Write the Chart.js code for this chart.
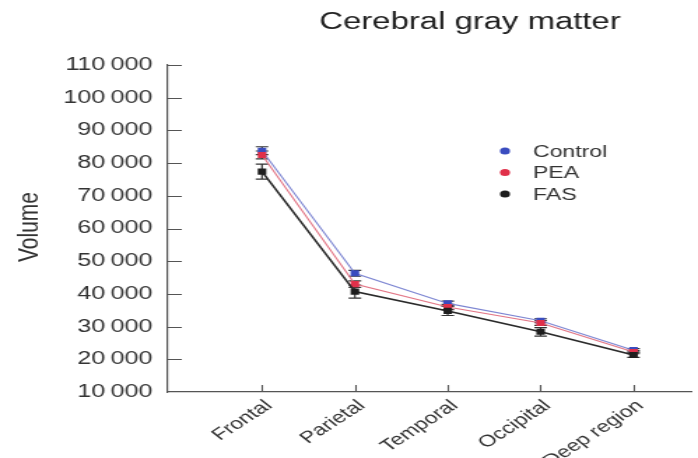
<!DOCTYPE html>
<html>
<head>
<meta charset="utf-8">
<script src="https://cdn.jsdelivr.net/npm/chart.js@4"></script>
<style>
  html, body { margin: 0; padding: 0; background: #fff; overflow: hidden; }
  #wrap { position: absolute; left: 0; top: 0; width: 499px; height: 458px;
          transform: scaleX(1.3988); transform-origin: 0 0; }
</style>
</head>
<body>
<div id="wrap"><canvas id="c"></canvas></div>
<script>
// ---- data ----
const categories = ["Frontal", "Parietal", "Temporal", "Occipital", "Deep region"];
const controlValues = [83800, 46300, 37100, 31800, 22800];
const peaValues     = [82500, 43000, 36000, 31100, 22200];
const fasValues     = [77400, 40700, 34800, 28400, 21300];
const controlErrors = [1200, 900, 700, 600, 500];
const peaErrors     = [1200, 1000, 800, 700, 500];
const fasErrors     = [2300, 2000, 1400, 1300, 700];
const yTicks = [10000, 20000, 30000, 40000, 50000, 60000, 70000, 80000, 90000, 100000, 110000];
const titleText = "Cerebral gray matter";
const yTitle = "Volume";
const seriesNames = ["Control", "PEA", "FAS"];

const FONT = '"Liberation Sans", Arial, sans-serif';
const markerColors = ["#3a4cbf", "#e0304a", "#1e1e1e"];
const lineColors = ["#7d86d2", "#e27484", "#2a2a2a"];

function pts(arr) { return arr.map((v, i) => ({ x: i, y: v })); }
const values = [controlValues, peaValues, fasValues];
const errors = [controlErrors, peaErrors, fasErrors];

const datasets = seriesNames.map((name, k) => ({
  label: name,
  data: pts(values[k]),
  errors: errors[k],
  borderColor: lineColors[k],
  borderWidth: k === 2 ? 1.6 : 1.1,
  backgroundColor: markerColors[k],
  pointBackgroundColor: markerColors[k],
  pointBorderColor: markerColors[k],
  pointStyle: 'rect',
  pointRadius: 4.3,
  pointBorderWidth: 0,
  tension: 0,
  order: 3 - k
}));

function fmt(v) { return String(v).replace(/\B(?=(\d{3})+(?!\d))/g, "\u2009"); }

const decor = {
  id: 'decor',
  beforeDatasetsDraw(chart) {
    const ctx = chart.ctx, y = chart.scales.y;
    ctx.save();
    ctx.strokeStyle = '#333';
    ctx.lineWidth = 1.2;
    chart.data.datasets.forEach((ds, k) => {
      const meta = chart.getDatasetMeta(k);
      meta.data.forEach((p, i) => {
        const v = ds.data[i].y, e = ds.errors[i];
        const y1 = y.getPixelForValue(v + e), y2 = y.getPixelForValue(v - e);
        ctx.beginPath();
        ctx.moveTo(p.x, y1); ctx.lineTo(p.x, y2);
        ctx.moveTo(p.x - 4.5, y1); ctx.lineTo(p.x + 4.5, y1);
        ctx.moveTo(p.x - 4.5, y2); ctx.lineTo(p.x + 4.5, y2);
        ctx.stroke();
      });
    });
    ctx.restore();
  },
  afterDraw(chart) {
    const ctx = chart.ctx, a = chart.chartArea;
    const xs = chart.scales.x, ys = chart.scales.y;
    ctx.save();
    // inward tick marks
    ctx.strokeStyle = '#555';
    ctx.lineWidth = 1.1;
    ctx.beginPath();
    yTicks.forEach(t => {
      if (t === 10000) return;
      const py = Math.round(ys.getPixelForValue(t)) + 0.5;
      ctx.moveTo(a.left, py); ctx.lineTo(a.left + 10, py);
    });
    categories.forEach((c, i) => {
      const px = Math.round(xs.getPixelForValue(i)) + 0.5;
      ctx.moveTo(px, a.bottom); ctx.lineTo(px, a.bottom - 7);
    });
    ctx.stroke();
    // title
    ctx.fillStyle = '#222';
    ctx.font = '23.5px ' + FONT;
    ctx.textAlign = 'center';
    ctx.textBaseline = 'middle';
    ctx.fillText(titleText, 336, 23);
    // y title
    ctx.save();
    ctx.translate(21, 227);
    ctx.rotate(-Math.PI / 2);
    ctx.font = '21px ' + FONT;
    ctx.fillStyle = '#333';
    ctx.fillText(yTitle, 0, 0);
    ctx.restore();
    // legend
    ctx.font = '16.5px ' + FONT;
    ctx.textAlign = 'left';
    seriesNames.forEach((n, k) => {
      const ly = 151 + k * 21.5;
      ctx.fillStyle = markerColors[k];
      ctx.beginPath();
      ctx.arc(361, ly, 3.6, 0, Math.PI * 2);
      ctx.fill();
      ctx.fillStyle = '#333';
      ctx.fillText(n, 381, ly + 1);
    });
    ctx.restore();
  }
};

new Chart(document.getElementById('c'), {
  type: 'line',
  data: { datasets },
  options: {
    responsive: true,
    maintainAspectRatio: false,
    animation: false,
    layout: { padding: { top: 65, left: 0, right: 0, bottom: 0 } },
    plugins: { legend: { display: false }, title: { display: false }, tooltip: { enabled: false } },
    scales: {
      x: {
        type: 'linear',
        min: -1.014,
        max: 4.63,
        afterBuildTicks: (s) => { s.ticks = categories.map((c, i) => ({ value: i })); },
        afterFit: (s) => { s.height = 66; },
        grid: { display: false, drawTicks: false },
        border: { display: true, color: '#555', width: 1.2 },
        ticks: {
          autoSkip: false,
          minRotation: 42, maxRotation: 42,
          padding: 4,
          labelOffset: 5,
          color: '#333',
          font: { family: FONT, size: 16.5 },
          callback: (v) => categories[v]
        }
      },
      y: {
        min: 10000,
        max: 110000,
        afterBuildTicks: (s) => { s.ticks = yTicks.map(v => ({ value: v })); },
        afterFit: (s) => { s.width = 120; },
        grid: { display: false, drawTicks: false },
        border: { display: true, color: '#555', width: 1.2 },
        ticks: {
          padding: 11,
          color: '#333',
          font: { family: FONT, size: 18 },
          callback: (v) => fmt(v)
        }
      }
    }
  },
  plugins: [decor]
});
</script>
</body>
</html>
